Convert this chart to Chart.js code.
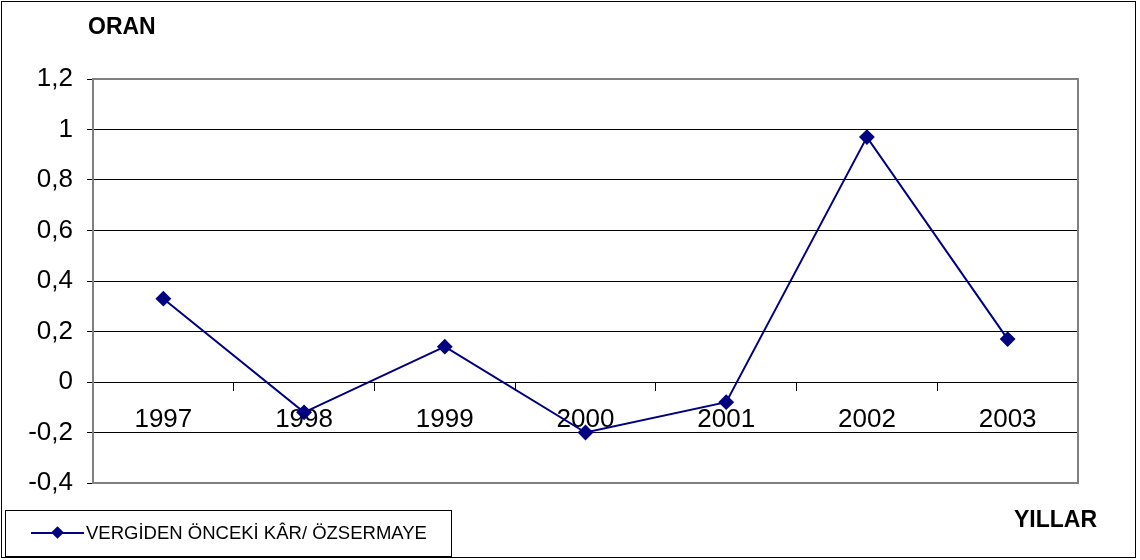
<!DOCTYPE html>
<html>
<head>
<meta charset="utf-8">
<script src="https://cdn.jsdelivr.net/npm/chart.js@4.4.1/dist/chart.umd.min.js"></script>
<style>
  body { margin: 0; background: #fff; font-family: "Liberation Sans", Arial, sans-serif; }
  #wrap { position: relative; width: 1140px; height: 560px; }
  #frame { position: absolute; left: 1px; top: 1px; width: 1133px; height: 555px; border: 1px solid #000; }
  .ttl { position: absolute; font-weight: bold; font-size: 23px; color: #000; line-height: 26px; }
  #legend { position: absolute; left: 5px; top: 510px; width: 447px; height: 47px; border: 1px solid #000; box-sizing: border-box; background: #fff; }
  #legend span { position: absolute; left: 80px; top: 11px; font-size: 18.5px; line-height: 22px; }
  #legend .ln { position: absolute; left: 25px; top: 21px; width: 53px; height: 2px; background: #000080; }
  #legend .dm { position: absolute; left: 47px; top: 17px; width: 9px; height: 9px; background: #000080; transform: rotate(45deg); }
</style>
</head>
<body>
<div id="wrap">
  <canvas id="canvas" width="1140" height="560"></canvas>
  <div id="frame"></div>
  <div class="ttl" style="left:88px;top:13px;">ORAN</div>
  <div class="ttl" style="left:1014px;top:506px;">YILLAR</div>
  <div id="legend"><div class="ln"></div><div class="dm"></div><span>VERGİDEN ÖNCEKİ KÂR/ ÖZSERMAYE</span></div>
</div>
<script>
var years = ["1997", "1998", "1999", "2000", "2001", "2002", "2003"];
var ratio = [0.33, -0.12, 0.14, -0.2, -0.08, 0.97, 0.17];
var seriesName = "VERGİDEN ÖNCEKİ KÂR/ ÖZSERMAYE";

// grey frame round the plot area
var plotBorder = {
  id: "plotBorder",
  afterDraw: function(chart) {
    var a = chart.chartArea, c = chart.ctx;
    c.save();
    c.strokeStyle = "#808080";
    c.lineWidth = 2;
    c.strokeRect(a.left, a.top, a.right - a.left, a.bottom - a.top);
    c.restore();
  }
};

var ctx = document.getElementById("canvas").getContext("2d");
new Chart(ctx, {
  type: "line",
  data: {
    labels: years,
    datasets: [{
      label: seriesName,
      data: ratio,
      borderColor: "#000080",
      backgroundColor: "#000080",
      borderWidth: 2,
      pointStyle: "rectRot",
      pointRadius: 6.5,
      pointHoverRadius: 6.5,
      tension: 0
    }]
  },
  options: {
    responsive: false,
    animation: false,
    layout: { padding: { top: 79, right: 62, bottom: 77, left: 0 } },
    plugins: { legend: { display: false }, tooltip: { enabled: false } },
    scales: {
      x: {
        position: { y: 0 },
        offset: true,
        grid: { offset: true, drawOnChartArea: false, drawTicks: true, tickLength: 8, color: "#000", lineWidth: 1 },
        border: { color: "#000", width: 1 },
        ticks: { color: "#000", padding: 14, maxRotation: 0, font: { family: "Liberation Sans", size: 26 } }
      },
      y: {
        min: -0.4,
        max: 1.2,
        afterFit: function(scale) { scale.width = 93; },
        grid: { color: "#000", lineWidth: 1, tickLength: 6 },
        border: { color: "#808080", width: 2 },
        ticks: {
          stepSize: 0.2,
          color: "#000",
          padding: 14,
          font: { family: "Liberation Sans", size: 26 },
          callback: function(v) { return String(Math.round(v * 10) / 10).replace(".", ","); }
        }
      }
    }
  },
  plugins: [plotBorder]
});
</script>
</body>
</html>
